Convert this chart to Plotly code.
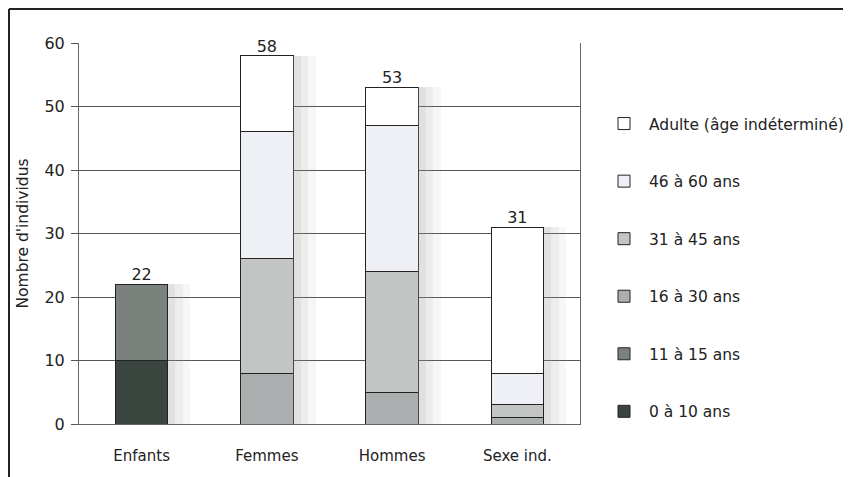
import plotly.graph_objects as go

categories = ["Enfants", "Femmes", "Hommes", "Sexe ind."]
series_names = ["0 à 10 ans", "11 à 15 ans", "16 à 30 ans", "31 à 45 ans", "46 à 60 ans", "Adulte (âge indéterminé)"]
v_0_10 = [10, 0, 0, 0]
v_11_15 = [12, 0, 0, 0]
v_16_30 = [0, 8, 5, 1]
v_31_45 = [0, 18, 19, 2]
v_46_60 = [0, 20, 23, 5]
v_adulte = [0, 12, 6, 23]
totals = [22, 58, 53, 31]
colors = ["#3b4540", "#7b817d", "#acafaf", "#c3c5c5", "#eef0f5", "#ffffff"]

# page has an 8px body margin; size figure accordingly
OFF = 8
W, H = 851, 477 - OFF
L, R, T, B = 71, 279, 35, 53
pw, ph = W - L - R, H - T - B

fig = go.Figure()

# soft shadow to the right of each bar, each step on its own overlaid axis so nothing stacks
shadow_steps = [("x2", 0.21, 0.30), ("x3", 0.27, 0.18), ("x4", 0.33, 0.08)]
for ax, off, op in shadow_steps:
    fig.add_trace(go.Bar(
        x=categories, y=totals, xaxis=ax, yaxis="y",
        marker=dict(color="#9a9a9a", line=dict(width=0)), opacity=op,
        width=0.06, offset=off, showlegend=False, hoverinfo="skip",
    ))

all_vals = [v_0_10, v_11_15, v_16_30, v_31_45, v_46_60, v_adulte]
n = len(series_names)
for i, (name, vals, col) in enumerate(zip(series_names, all_vals, colors)):
    fig.add_trace(go.Bar(
        x=categories, y=vals, name=name, legendgroup=f"g{i}", legendrank=n - i,
        marker=dict(color=col, line=dict(color="#222222", width=1)),
        width=0.42,
    ))

fig.add_trace(go.Scatter(
    x=categories, y=totals, mode="text", text=[str(t) for t in totals],
    textposition="top center", showlegend=False,
    textfont=dict(size=16, color="#222222", family="DejaVu Sans"),
    cliponaxis=False,
))

def px(x):
    return (x - OFF - L) / pw

def py(y):
    return (H - B - (y - OFF)) / ph

shapes = [
    dict(type="line", xref="paper", yref="paper", x0=px(9), x1=px(851 + 10), y0=py(9), y1=py(9),
         line=dict(color="#222222", width=2)),
    dict(type="line", xref="paper", yref="paper", x0=px(9), x1=px(9), y0=py(9), y1=py(490),
         line=dict(color="#222222", width=2)),
]

hidden_x = dict(overlaying="x", range=[-0.5, 3.5], visible=False)

fig.update_layout(
    width=W, height=H,
    margin=dict(l=L, r=R, t=T, b=B, autoexpand=False),
    barmode="stack",
    plot_bgcolor="white", paper_bgcolor="white",
    font=dict(family="DejaVu Sans", size=15, color="#222222"),
    shapes=shapes,
    legend=dict(
        x=px(599), y=py(107), xanchor="left", yanchor="top",
        traceorder="grouped", tracegroupgap=34.4,
        font=dict(size=15.5, family="DejaVu Sans", color="#222222"),
        itemwidth=40,
    ),
    xaxis=dict(
        showgrid=False, showline=True, linecolor="#666666", linewidth=1,
        ticks="", ticklabelstandoff=18,
        tickfont=dict(size=15, family="DejaVu Sans"),
        range=[-0.5, 3.5],
    ),
    xaxis2=hidden_x, xaxis3=hidden_x, xaxis4=hidden_x,
    yaxis=dict(
        range=[0, 60], dtick=10,
        showgrid=True, gridcolor="#555555", gridwidth=1,
        showline=True, linecolor="#666666", linewidth=1, mirror=True,
        ticks="outside", ticklen=7, tickcolor="#555555",
        ticklabelstandoff=3,
        tickfont=dict(size=16, family="DejaVu Sans"),
        zeroline=False,
        title=dict(text="Nombre d'individus", font=dict(size=15.5, family="DejaVu Sans"), standoff=12),
    ),
    showlegend=True,
)

fig.write_html("out.html")
